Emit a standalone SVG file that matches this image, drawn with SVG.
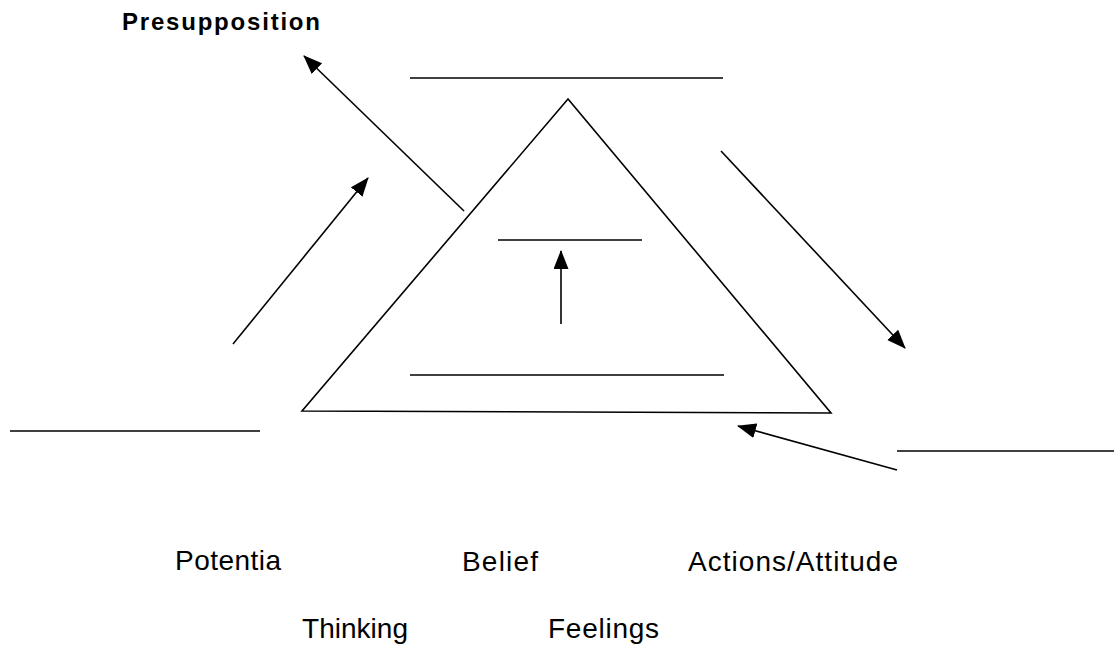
<svg xmlns="http://www.w3.org/2000/svg" width="1114" height="652" viewBox="0 0 1114 652">
<style>
.ln{stroke:#000;stroke-width:1.6;fill:none}
.ar{stroke:#000;stroke-width:1.6;fill:none;marker-end:url(#ah)}
.lbl{font-family:"Liberation Sans",Arial,sans-serif;font-size:28px;fill:#000}
.ttl{font-family:"Liberation Sans",Arial,sans-serif;font-size:24px;font-weight:bold;fill:#000}
</style>
<defs>
<marker id="ah" markerUnits="userSpaceOnUse" markerWidth="20" markerHeight="16" refX="18" refY="7.5" orient="auto">
<path d="M0,0 L19,7.5 L0,15 Z" fill="#000"/>
</marker>
</defs>
<rect width="1114" height="652" fill="#fff"/>
<g id="triangle">
<polygon class="ln" points="568,99 302,411 831,413"/>
</g>
<g id="blanks">
<line class="ln" x1="410" y1="78" x2="723" y2="78"/>
<line class="ln" x1="498" y1="240" x2="642" y2="240"/>
<line class="ln" x1="410" y1="375" x2="724" y2="375"/>
<line class="ln" x1="10" y1="431" x2="260" y2="431"/>
<line class="ln" x1="897" y1="451" x2="1114" y2="451"/>
</g>
<g id="connectors">
<line class="ar" x1="464" y1="211" x2="304" y2="56"/>
<line class="ar" x1="233" y1="344" x2="368" y2="178"/>
<line class="ar" x1="721" y1="151" x2="905" y2="348"/>
<line class="ar" x1="897" y1="470" x2="738" y2="426"/>
<line class="ar" x1="561" y1="324" x2="561" y2="251"/>
</g>
<g id="presupposition"><text class="ttl" x="122" y="30" textLength="198" lengthAdjust="spacing">Presupposition</text></g>
<g id="potentia"><text class="lbl" x="175" y="570" textLength="106" lengthAdjust="spacing">Potentia</text></g>
<g id="belief"><text class="lbl" x="462" y="571" textLength="76" lengthAdjust="spacing">Belief</text></g>
<g id="actions"><text class="lbl" x="688" y="571" textLength="210" lengthAdjust="spacing">Actions/Attitude</text></g>
<g id="thinking"><text class="lbl" x="302" y="638" textLength="106" lengthAdjust="spacing">Thinking</text></g>
<g id="feelings"><text class="lbl" x="548" y="638" textLength="111" lengthAdjust="spacing">Feelings</text></g>
</svg>
